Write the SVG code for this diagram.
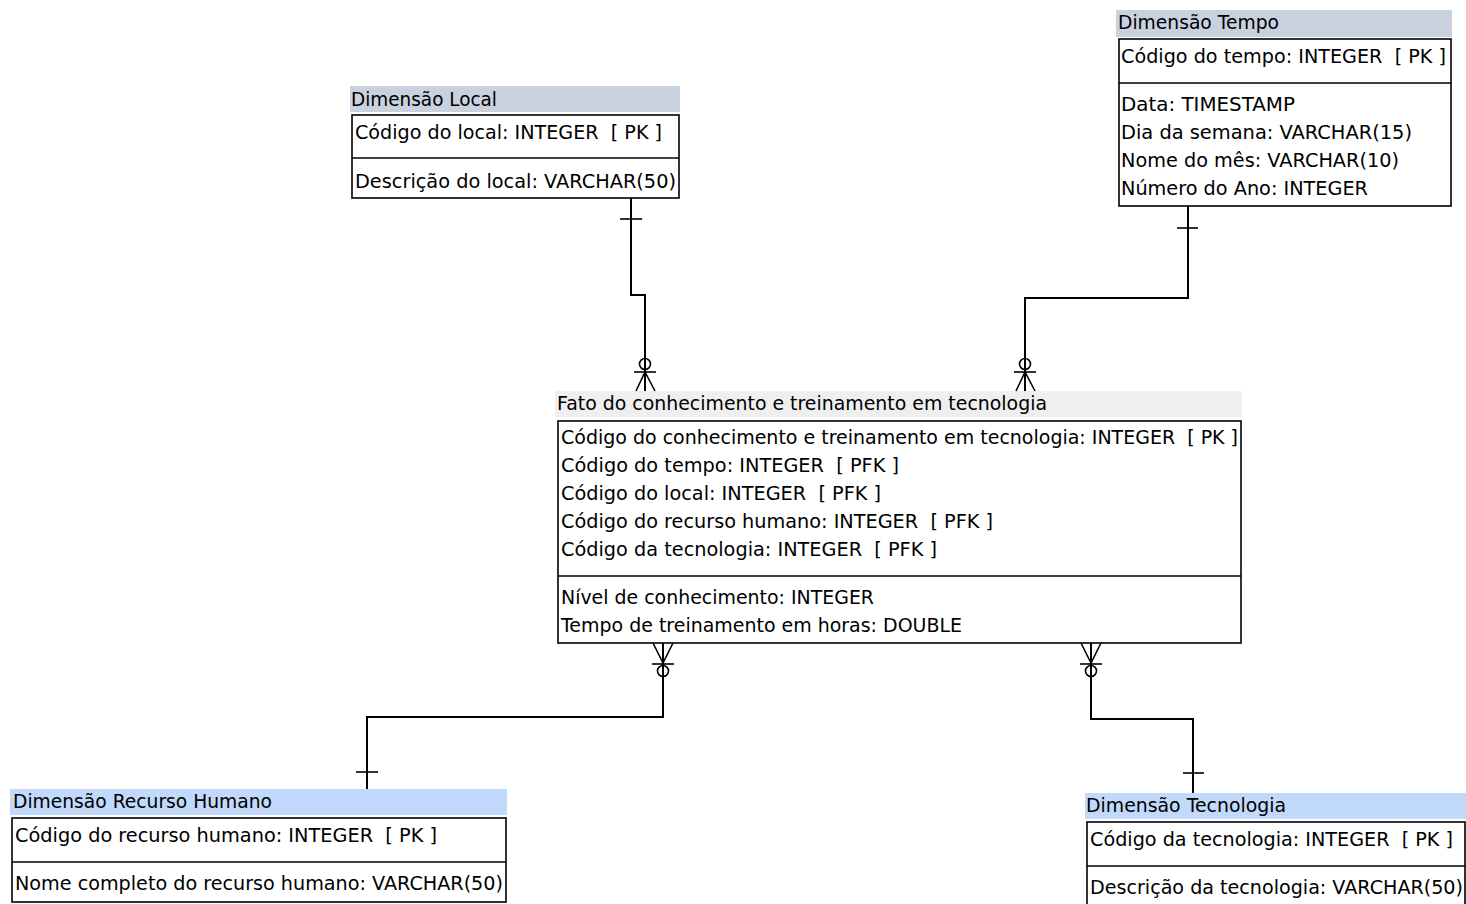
<svg xmlns="http://www.w3.org/2000/svg" width="1466" height="904" viewBox="0 0 1466 904">
  <style>
    text { font-family: "DejaVu Sans", "Liberation Sans", sans-serif; font-size: 19px; fill: #000; white-space: pre; }
    .box { fill: #fff; stroke: #000; stroke-width: 1.6; }
    .sep { stroke: #000; stroke-width: 1.6; }
    .hdr-gray { fill: #c9d1df; }
    .hdr-blue { fill: #c1d9fb; }
    .hdr-fact { fill: #efefef; }
    .conn { fill: none; stroke: #000; stroke-width: 2; }
    .mark { fill: none; stroke: #000; stroke-width: 1.6; }
  </style>

  <!-- Dimension: location -->
  <g id="dim-local">
    <rect class="hdr-gray" x="350" y="86" width="330" height="26"/>
    <text x="351" y="106" textLength="146" lengthAdjust="spacingAndGlyphs">Dimensão Local</text>
    <rect class="box" x="352" y="115" width="327" height="83"/>
    <line class="sep" x1="352" y1="158" x2="679" y2="158"/>
    <text x="355" y="139" textLength="307" lengthAdjust="spacingAndGlyphs" xml:space="preserve">Código do local: INTEGER  [ PK ]</text>
    <text x="355" y="188" textLength="321" lengthAdjust="spacingAndGlyphs">Descrição do local: VARCHAR(50)</text>
  </g>

  <!-- Dimension: time -->
  <g id="dim-tempo">
    <rect class="hdr-gray" x="1116" y="10" width="336" height="27"/>
    <text x="1118" y="29" textLength="161" lengthAdjust="spacingAndGlyphs">Dimensão Tempo</text>
    <rect class="box" x="1119" y="39" width="332" height="167"/>
    <line class="sep" x1="1119" y1="83" x2="1451" y2="83"/>
    <text x="1121" y="63" textLength="325" lengthAdjust="spacingAndGlyphs" xml:space="preserve">Código do tempo: INTEGER  [ PK ]</text>
    <text x="1121" y="111" textLength="174" lengthAdjust="spacingAndGlyphs">Data: TIMESTAMP</text>
    <text x="1121" y="139" textLength="291" lengthAdjust="spacingAndGlyphs">Dia da semana: VARCHAR(15)</text>
    <text x="1121" y="167" textLength="278" lengthAdjust="spacingAndGlyphs">Nome do mês: VARCHAR(10)</text>
    <text x="1121" y="195" textLength="247" lengthAdjust="spacingAndGlyphs">Número do Ano: INTEGER</text>
  </g>

  <!-- Fact table -->
  <g id="fato">
    <rect class="hdr-fact" x="555" y="391" width="687" height="26"/>
    <text x="557" y="410" textLength="490" lengthAdjust="spacingAndGlyphs">Fato do conhecimento e treinamento em tecnologia</text>
    <rect class="box" x="558" y="421" width="683" height="222"/>
    <line class="sep" x1="558" y1="576" x2="1241" y2="576"/>
    <text x="561" y="444" textLength="677" lengthAdjust="spacingAndGlyphs" xml:space="preserve">Código do conhecimento e treinamento em tecnologia: INTEGER  [ PK ]</text>
    <text x="561" y="472" textLength="338" lengthAdjust="spacingAndGlyphs" xml:space="preserve">Código do tempo: INTEGER  [ PFK ]</text>
    <text x="561" y="500" textLength="320" lengthAdjust="spacingAndGlyphs" xml:space="preserve">Código do local: INTEGER  [ PFK ]</text>
    <text x="561" y="528" textLength="432" lengthAdjust="spacingAndGlyphs" xml:space="preserve">Código do recurso humano: INTEGER  [ PFK ]</text>
    <text x="561" y="556" textLength="376" lengthAdjust="spacingAndGlyphs" xml:space="preserve">Código da tecnologia: INTEGER  [ PFK ]</text>
    <text x="561" y="604" textLength="313" lengthAdjust="spacingAndGlyphs">Nível de conhecimento: INTEGER</text>
    <text x="561" y="632" textLength="401" lengthAdjust="spacingAndGlyphs">Tempo de treinamento em horas: DOUBLE</text>
  </g>

  <!-- Dimension: human resource -->
  <g id="dim-recurso-humano">
    <rect class="hdr-blue" x="10" y="789" width="497" height="26"/>
    <text x="13" y="808" textLength="259" lengthAdjust="spacingAndGlyphs">Dimensão Recurso Humano</text>
    <rect class="box" x="12" y="818" width="494" height="84"/>
    <line class="sep" x1="12" y1="862" x2="506" y2="862"/>
    <text x="15" y="842" textLength="422" lengthAdjust="spacingAndGlyphs" xml:space="preserve">Código do recurso humano: INTEGER  [ PK ]</text>
    <text x="15" y="890" textLength="488" lengthAdjust="spacingAndGlyphs">Nome completo do recurso humano: VARCHAR(50)</text>
  </g>

  <!-- Dimension: technology -->
  <g id="dim-tecnologia">
    <rect class="hdr-blue" x="1085" y="793" width="381" height="26"/>
    <text x="1086" y="812" textLength="200" lengthAdjust="spacingAndGlyphs">Dimensão Tecnologia</text>
    <rect class="box" x="1087" y="822" width="378" height="90"/>
    <line class="sep" x1="1087" y1="866" x2="1465" y2="866"/>
    <text x="1090" y="846" textLength="363" lengthAdjust="spacingAndGlyphs" xml:space="preserve">Código da tecnologia: INTEGER  [ PK ]</text>
    <text x="1090" y="894" textLength="373" lengthAdjust="spacingAndGlyphs">Descrição da tecnologia: VARCHAR(50)</text>
  </g>

  <!-- Relationships: one (dimension) to zero-or-many (fact) -->
  <g id="connectors">
    <!-- local -> fact -->
    <polyline class="conn" points="631,198 631,295 645,295 645,391"/>
    <line class="mark" x1="620" y1="219" x2="642" y2="219"/>
    <circle class="mark" cx="645" cy="364" r="5.5" fill="#fff"/>
    <line class="mark" x1="634" y1="372" x2="656" y2="372"/>
    <polyline class="mark" points="636,391 645,372 655,391"/>

    <!-- time -> fact -->
    <polyline class="conn" points="1188,206 1188,298 1025,298 1025,391"/>
    <line class="mark" x1="1177" y1="228" x2="1198" y2="228"/>
    <circle class="mark" cx="1025" cy="364" r="5.5" fill="#fff"/>
    <line class="mark" x1="1014" y1="372" x2="1036" y2="372"/>
    <polyline class="mark" points="1016,391 1025,372 1035,391"/>

    <!-- fact -> human resource -->
    <polyline class="conn" points="663,643 663,717 367,717 367,789"/>
    <line class="mark" x1="356" y1="772" x2="378" y2="772"/>
    <polyline class="mark" points="653,643 663,663 673,643"/>
    <line class="mark" x1="652" y1="664" x2="674" y2="664"/>
    <circle class="mark" cx="663" cy="671" r="5.5" fill="#fff"/>
    <line class="conn" x1="663" y1="676.5" x2="663" y2="690"/>

    <!-- fact -> technology -->
    <polyline class="conn" points="1091,643 1091,719 1193,719 1193,793"/>
    <line class="mark" x1="1183" y1="773" x2="1204" y2="773"/>
    <polyline class="mark" points="1081,643 1091,663 1101,643"/>
    <line class="mark" x1="1080" y1="664" x2="1102" y2="664"/>
    <circle class="mark" cx="1091" cy="671" r="5.5" fill="#fff"/>
    <line class="conn" x1="1091" y1="676.5" x2="1091" y2="690"/>
  </g>
</svg>
